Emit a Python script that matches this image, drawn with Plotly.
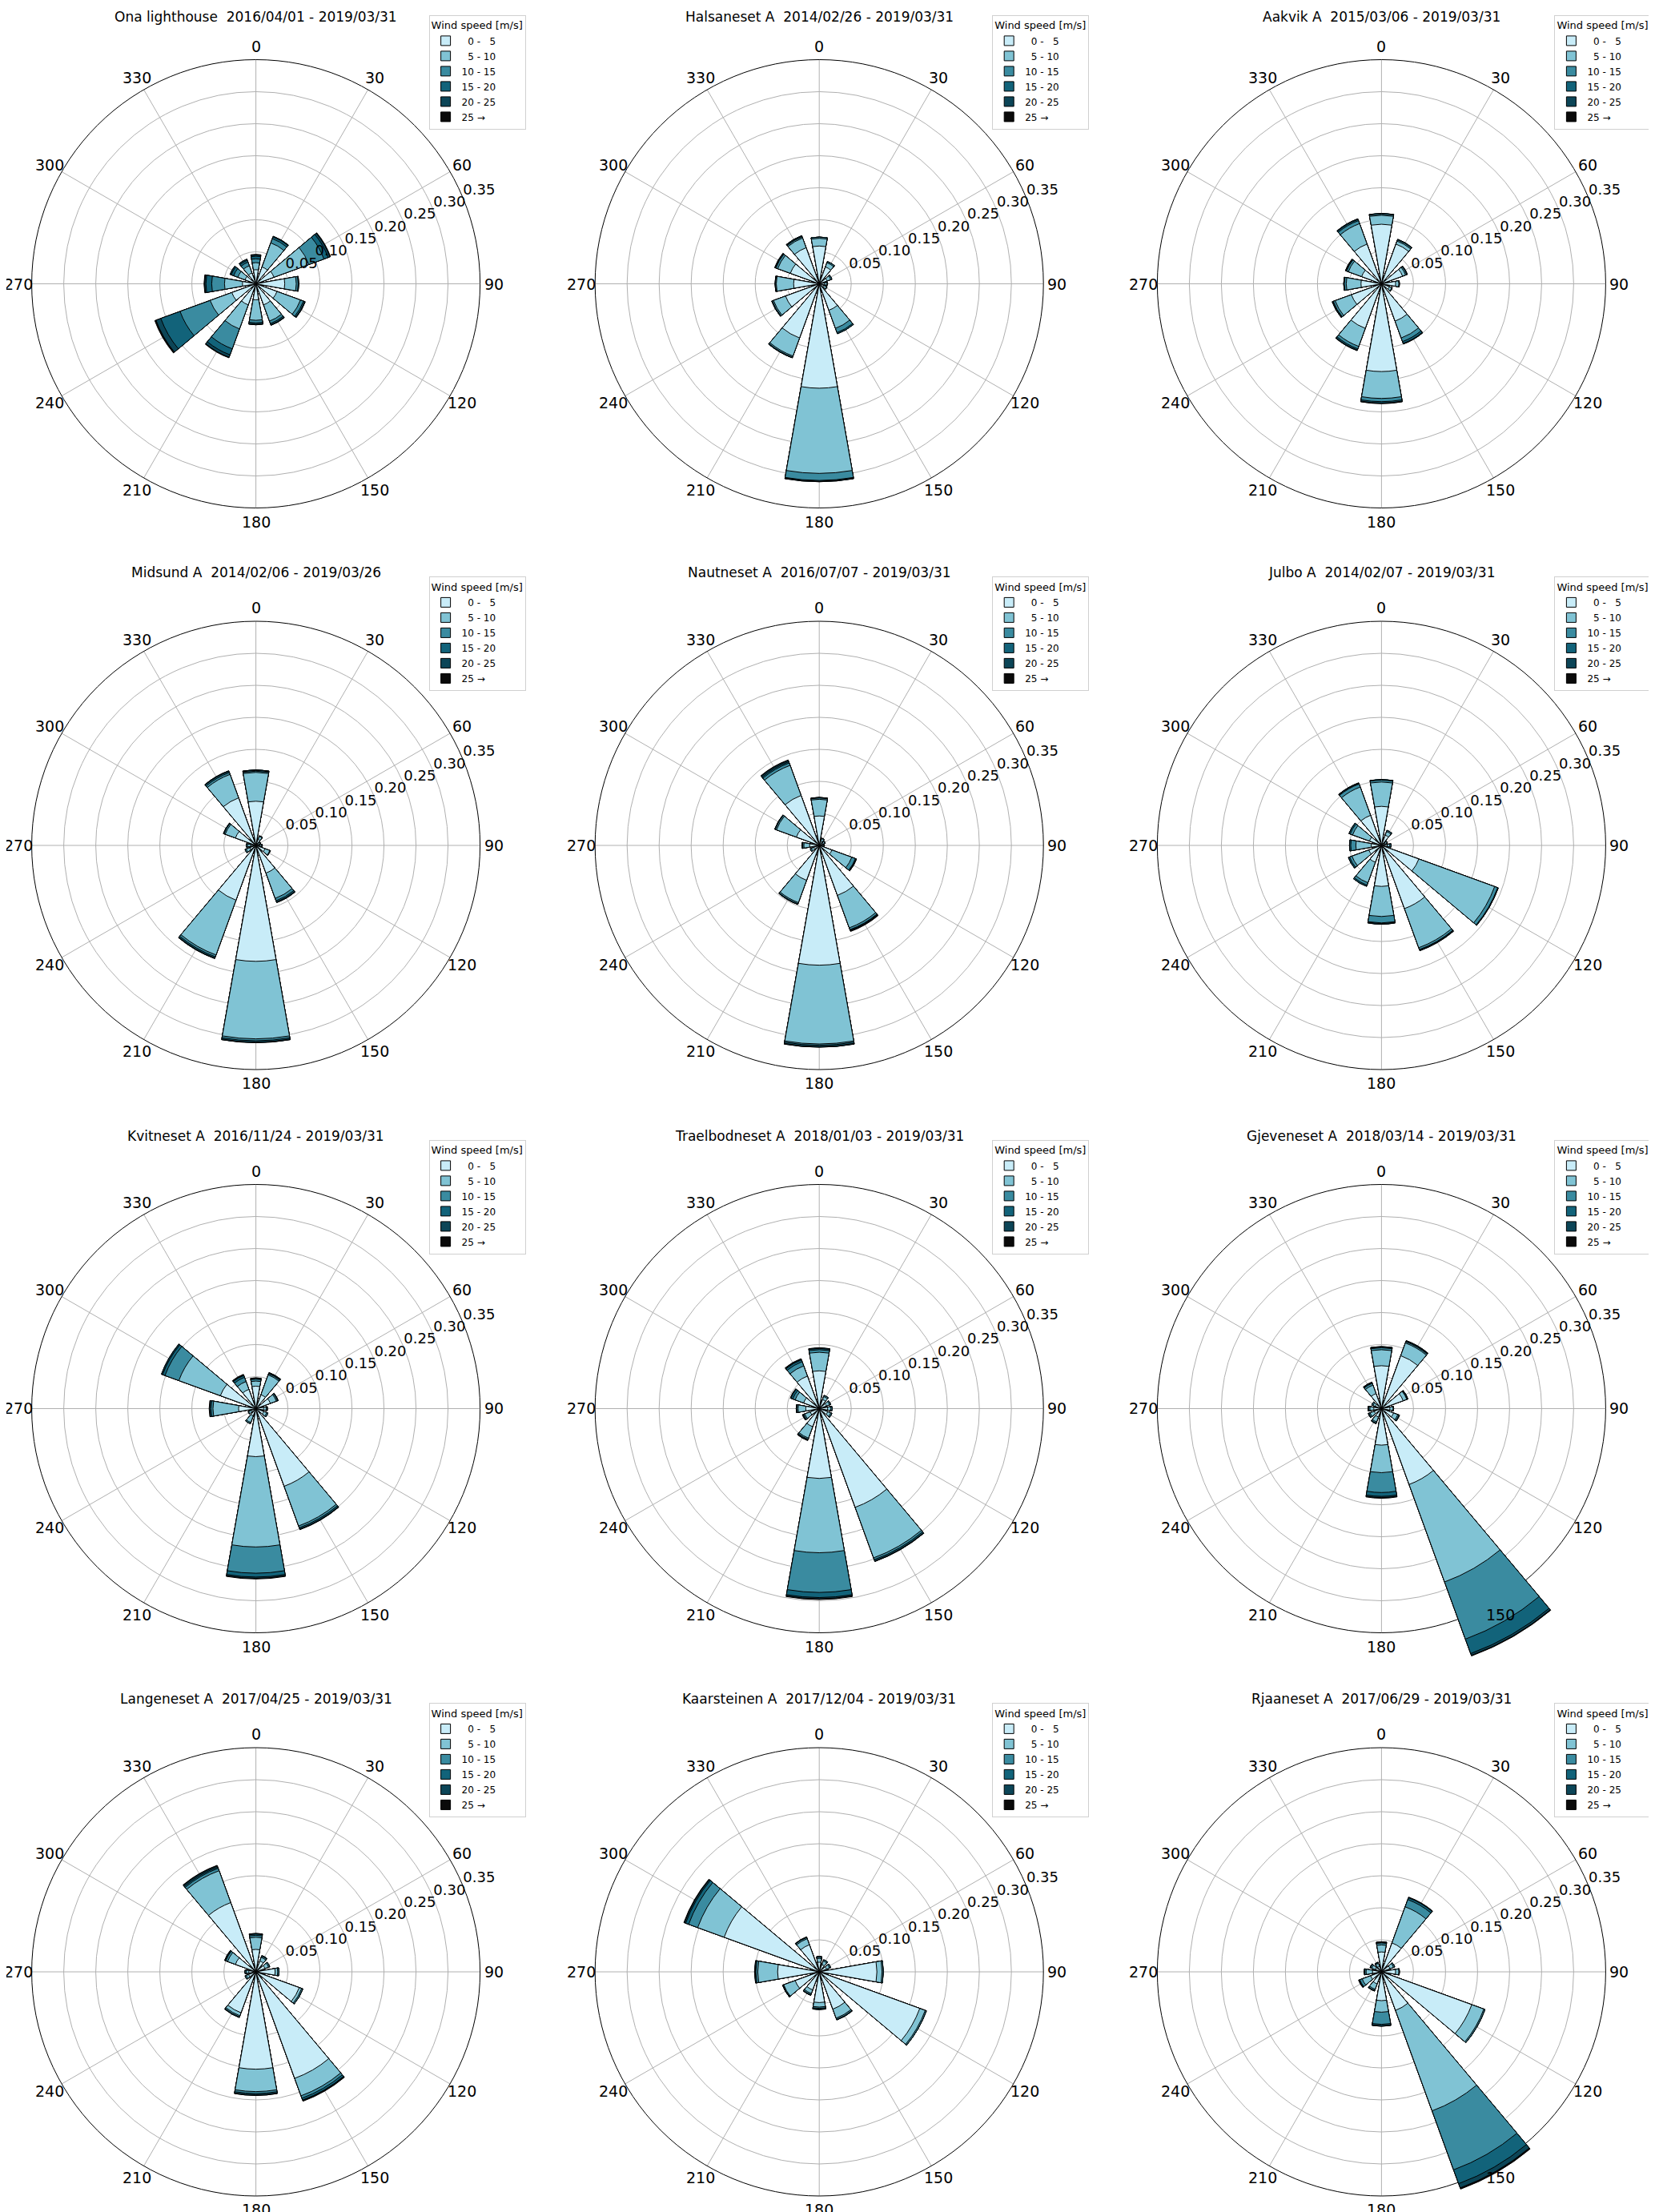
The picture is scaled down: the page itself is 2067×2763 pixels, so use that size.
import math
import plotly.graph_objects as go

# wind direction sectors (degrees) and speed classes
directions = [0, 30, 60, 90, 120, 150, 180, 210, 240, 270, 300, 330]
speed_labels = ["\u20070 - \u20075", "\u20075 - 10", "10 - 15", "15 - 20", "20 - 25", "25 \u2192"]
speed_colors = ["#c8ecf8", "#80c3d4", "#3a8ba0", "#12637a", "#0c4557", "#0a0a0a"]
radial_ticks = [0.05, 0.10, 0.15, 0.20, 0.25, 0.30, 0.35]
radial_text = ["0.05", "0.10", "0.15", "0.20", "0.25", "0.30", "0.35"]
OUTER = 0.35  # value of the outer ring

# cumulative frequency per direction (rows: 0..330 deg), columns = upper edge of each speed class
ona = [
    [0.022, 0.033, 0.039, 0.043, 0.045, 0.046],
    [0.028, 0.068, 0.075, 0.078, 0.079, 0.079],
    [0.030, 0.088, 0.113, 0.120, 0.123, 0.124],
    [0.045, 0.063, 0.066, 0.067, 0.067, 0.067],
    [0.035, 0.074, 0.079, 0.081, 0.082, 0.082],
    [0.035, 0.062, 0.066, 0.068, 0.069, 0.069],
    [0.025, 0.057, 0.061, 0.063, 0.064, 0.064],
    [0.035, 0.075, 0.108, 0.118, 0.122, 0.123],
    [0.040, 0.076, 0.126, 0.158, 0.166, 0.168],
    [0.021, 0.049, 0.069, 0.078, 0.080, 0.081],
    [0.018, 0.030, 0.037, 0.041, 0.043, 0.043],
    [0.018, 0.030, 0.036, 0.039, 0.041, 0.041],
]
halsaneset = [
    [0.059, 0.071, 0.073, 0.073, 0.073, 0.073],
    [0.028, 0.035, 0.037, 0.037, 0.037, 0.037],
    [0.013, 0.019, 0.021, 0.021, 0.021, 0.021],
    [0.008, 0.012, 0.013, 0.013, 0.013, 0.013],
    [0.008, 0.012, 0.013, 0.013, 0.013, 0.013],
    [0.044, 0.074, 0.081, 0.083, 0.083, 0.083],
    [0.163, 0.296, 0.307, 0.308, 0.309, 0.309],
    [0.090, 0.120, 0.122, 0.123, 0.123, 0.123],
    [0.056, 0.076, 0.078, 0.079, 0.079, 0.079],
    [0.040, 0.067, 0.068, 0.069, 0.069, 0.069],
    [0.048, 0.069, 0.072, 0.073, 0.074, 0.074],
    [0.060, 0.076, 0.078, 0.079, 0.080, 0.080],
]
aakvik = [
    [0.093, 0.107, 0.109, 0.110, 0.110, 0.110],
    [0.066, 0.071, 0.073, 0.073, 0.074, 0.074],
    [0.035, 0.040, 0.042, 0.043, 0.043, 0.043],
    [0.022, 0.027, 0.028, 0.028, 0.028, 0.028],
    [0.013, 0.017, 0.018, 0.018, 0.018, 0.018],
    [0.062, 0.090, 0.096, 0.099, 0.100, 0.100],
    [0.137, 0.179, 0.184, 0.186, 0.187, 0.187],
    [0.074, 0.104, 0.108, 0.110, 0.111, 0.111],
    [0.050, 0.077, 0.080, 0.081, 0.082, 0.082],
    [0.032, 0.055, 0.058, 0.059, 0.059, 0.059],
    [0.033, 0.055, 0.058, 0.059, 0.060, 0.060],
    [0.066, 0.100, 0.105, 0.107, 0.108, 0.108],
]
midsund = [
    [0.069, 0.114, 0.116, 0.117, 0.118, 0.118],
    [0.010, 0.015, 0.016, 0.016, 0.016, 0.016],
    [0.005, 0.007, 0.008, 0.008, 0.008, 0.008],
    [0.006, 0.009, 0.010, 0.010, 0.010, 0.010],
    [0.015, 0.023, 0.024, 0.024, 0.024, 0.024],
    [0.046, 0.088, 0.092, 0.094, 0.095, 0.095],
    [0.181, 0.302, 0.305, 0.307, 0.308, 0.308],
    [0.091, 0.182, 0.185, 0.187, 0.188, 0.188],
    [0.010, 0.016, 0.018, 0.018, 0.018, 0.018],
    [0.008, 0.013, 0.015, 0.015, 0.015, 0.015],
    [0.034, 0.051, 0.053, 0.054, 0.054, 0.054],
    [0.079, 0.118, 0.121, 0.123, 0.124, 0.124],
]
nautneset = [
    [0.046, 0.072, 0.074, 0.075, 0.075, 0.075],
    [0.007, 0.011, 0.012, 0.012, 0.012, 0.012],
    [0.006, 0.009, 0.010, 0.010, 0.010, 0.010],
    [0.005, 0.007, 0.008, 0.008, 0.008, 0.008],
    [0.021, 0.054, 0.060, 0.061, 0.062, 0.062],
    [0.083, 0.137, 0.140, 0.141, 0.142, 0.143],
    [0.187, 0.310, 0.312, 0.314, 0.315, 0.315],
    [0.058, 0.095, 0.097, 0.098, 0.098, 0.098],
    [0.009, 0.013, 0.015, 0.015, 0.015, 0.015],
    [0.015, 0.024, 0.026, 0.027, 0.027, 0.027],
    [0.038, 0.071, 0.073, 0.074, 0.074, 0.074],
    [0.083, 0.133, 0.137, 0.139, 0.141, 0.142],
]
julbo = [
    [0.061, 0.099, 0.102, 0.103, 0.103, 0.103],
    [0.017, 0.023, 0.025, 0.025, 0.025, 0.025],
    [0.006, 0.009, 0.010, 0.010, 0.010, 0.010],
    [0.009, 0.013, 0.015, 0.015, 0.015, 0.015],
    [0.062, 0.188, 0.193, 0.194, 0.194, 0.194],
    [0.105, 0.170, 0.173, 0.174, 0.175, 0.175],
    [0.064, 0.111, 0.121, 0.122, 0.123, 0.123],
    [0.028, 0.062, 0.066, 0.068, 0.068, 0.068],
    [0.021, 0.049, 0.053, 0.055, 0.055, 0.055],
    [0.016, 0.040, 0.048, 0.050, 0.050, 0.050],
    [0.020, 0.048, 0.052, 0.054, 0.054, 0.054],
    [0.050, 0.097, 0.102, 0.103, 0.104, 0.104],
]
kvitneset = [
    [0.035, 0.043, 0.046, 0.047, 0.048, 0.048],
    [0.023, 0.056, 0.058, 0.059, 0.060, 0.060],
    [0.024, 0.034, 0.036, 0.037, 0.037, 0.037],
    [0.012, 0.016, 0.017, 0.018, 0.018, 0.018],
    [0.013, 0.018, 0.020, 0.020, 0.020, 0.020],
    [0.129, 0.195, 0.198, 0.200, 0.201, 0.201],
    [0.075, 0.216, 0.257, 0.263, 0.265, 0.266],
    [0.012, 0.023, 0.025, 0.025, 0.025, 0.025],
    [0.008, 0.012, 0.013, 0.013, 0.013, 0.013],
    [0.027, 0.067, 0.070, 0.072, 0.072, 0.073],
    [0.059, 0.128, 0.151, 0.155, 0.157, 0.157],
    [0.032, 0.045, 0.052, 0.055, 0.056, 0.057],
]
traelbodneset = [
    [0.059, 0.088, 0.092, 0.094, 0.095, 0.095],
    [0.015, 0.020, 0.022, 0.022, 0.022, 0.022],
    [0.012, 0.017, 0.019, 0.019, 0.019, 0.019],
    [0.013, 0.018, 0.020, 0.020, 0.020, 0.020],
    [0.014, 0.019, 0.021, 0.021, 0.021, 0.021],
    [0.164, 0.248, 0.251, 0.253, 0.254, 0.254],
    [0.109, 0.225, 0.287, 0.295, 0.297, 0.298],
    [0.030, 0.049, 0.051, 0.052, 0.053, 0.053],
    [0.015, 0.024, 0.026, 0.027, 0.028, 0.028],
    [0.021, 0.033, 0.035, 0.036, 0.036, 0.036],
    [0.026, 0.040, 0.044, 0.047, 0.048, 0.048],
    [0.054, 0.071, 0.078, 0.081, 0.082, 0.083],
]
gjeveneset = [
    [0.067, 0.092, 0.095, 0.096, 0.097, 0.097],
    [0.088, 0.109, 0.111, 0.112, 0.113, 0.113],
    [0.036, 0.042, 0.043, 0.044, 0.044, 0.044],
    [0.013, 0.018, 0.019, 0.019, 0.019, 0.019],
    [0.020, 0.027, 0.029, 0.030, 0.030, 0.030],
    [0.126, 0.288, 0.383, 0.407, 0.410, 0.411],
    [0.057, 0.100, 0.131, 0.137, 0.139, 0.140],
    [0.014, 0.022, 0.024, 0.025, 0.025, 0.025],
    [0.012, 0.019, 0.021, 0.022, 0.022, 0.022],
    [0.012, 0.018, 0.020, 0.021, 0.021, 0.021],
    [0.010, 0.014, 0.016, 0.016, 0.016, 0.016],
    [0.025, 0.039, 0.042, 0.043, 0.044, 0.044],
]
langeneset = [
    [0.035, 0.054, 0.057, 0.059, 0.060, 0.060],
    [0.018, 0.024, 0.026, 0.027, 0.027, 0.027],
    [0.015, 0.021, 0.023, 0.023, 0.023, 0.023],
    [0.030, 0.034, 0.036, 0.036, 0.036, 0.036],
    [0.072, 0.076, 0.078, 0.078, 0.078, 0.078],
    [0.177, 0.206, 0.210, 0.213, 0.214, 0.215],
    [0.152, 0.187, 0.190, 0.192, 0.193, 0.193],
    [0.068, 0.073, 0.075, 0.075, 0.076, 0.076],
    [0.012, 0.016, 0.018, 0.018, 0.018, 0.018],
    [0.011, 0.015, 0.017, 0.017, 0.017, 0.017],
    [0.034, 0.047, 0.050, 0.051, 0.052, 0.052],
    [0.115, 0.168, 0.172, 0.174, 0.176, 0.177],
]
kaarsteinen = [
    [0.015, 0.021, 0.023, 0.024, 0.024, 0.024],
    [0.012, 0.018, 0.020, 0.020, 0.020, 0.020],
    [0.012, 0.017, 0.019, 0.019, 0.019, 0.019],
    [0.090, 0.098, 0.100, 0.100, 0.100, 0.100],
    [0.167, 0.176, 0.178, 0.178, 0.178, 0.178],
    [0.062, 0.077, 0.079, 0.080, 0.080, 0.080],
    [0.048, 0.055, 0.057, 0.058, 0.059, 0.059],
    [0.030, 0.036, 0.038, 0.039, 0.039, 0.039],
    [0.040, 0.059, 0.060, 0.061, 0.061, 0.061],
    [0.065, 0.096, 0.099, 0.100, 0.101, 0.101],
    [0.158, 0.202, 0.217, 0.222, 0.224, 0.225],
    [0.045, 0.055, 0.057, 0.057, 0.058, 0.058],
]
rjaaneset = [
    [0.031, 0.042, 0.045, 0.046, 0.047, 0.047],
    [0.048, 0.108, 0.120, 0.123, 0.124, 0.124],
    [0.014, 0.020, 0.022, 0.022, 0.022, 0.022],
    [0.022, 0.027, 0.028, 0.028, 0.028, 0.028],
    [0.150, 0.170, 0.172, 0.172, 0.172, 0.172],
    [0.064, 0.231, 0.329, 0.352, 0.359, 0.361],
    [0.045, 0.063, 0.082, 0.084, 0.085, 0.085],
    [0.020, 0.029, 0.031, 0.032, 0.032, 0.032],
    [0.018, 0.032, 0.036, 0.037, 0.038, 0.038],
    [0.014, 0.024, 0.026, 0.027, 0.027, 0.027],
    [0.010, 0.016, 0.018, 0.019, 0.019, 0.019],
    [0.009, 0.014, 0.015, 0.016, 0.016, 0.016],
]

stations = [
    ("Ona lighthouse", "2016/04/01 - 2019/03/31", ona),
    ("Halsaneset A", "2014/02/26 - 2019/03/31", halsaneset),
    ("Aakvik A", "2015/03/06 - 2019/03/31", aakvik),
    ("Midsund A", "2014/02/06 - 2019/03/26", midsund),
    ("Nautneset A", "2016/07/07 - 2019/03/31", nautneset),
    ("Julbo A", "2014/02/07 - 2019/03/31", julbo),
    ("Kvitneset A", "2016/11/24 - 2019/03/31", kvitneset),
    ("Traelbodneset A", "2018/01/03 - 2019/03/31", traelbodneset),
    ("Gjeveneset A", "2018/03/14 - 2019/03/31", gjeveneset),
    ("Langeneset A", "2017/04/25 - 2019/03/31", langeneset),
    ("Kaarsteinen A", "2017/12/04 - 2019/03/31", kaarsteinen),
    ("Rjaaneset A", "2017/06/29 - 2019/03/31", rjaaneset),
]

W, H = 2067, 2763
col_x = [311.6, 1015.2, 1717.4]
row_y = [346.5, 1048.0, 1751.5, 2455.0]
R = 280          # px radius of the 0.35 ring
LABEL_R = 297    # px radius where the direction labels sit
FONT = "DejaVu Sans"
GRID = "#b0b0b0"

fig = go.Figure()
layout = dict(
    width=W, height=H, margin=dict(l=0, r=0, t=0, b=0, autoexpand=False),
    paper_bgcolor="white", plot_bgcolor="white",
    font=dict(family=FONT, color="black"),
    annotations=[], shapes=[],
)

for i, (name, period, rows) in enumerate(stations):
    cx = col_x[i % 3]
    cy = row_y[i // 3]
    pname = "polar" if i == 0 else "polar%d" % (i + 1)
    lname = "legend" if i == 0 else "legend%d" % (i + 1)

    # radial range is widened when a bar runs past the outer ring
    rmax = max(OUTER, max(row[5] for row in rows) + 0.01)
    Rtot = R * rmax / OUTER

    # draw outermost class first so inner classes sit on top
    for k in range(5, -1, -1):
        fig.add_trace(go.Barpolar(
            r=[row[k] for row in rows],
            theta=directions,
            width=20,
            name=speed_labels[k],
            marker=dict(color=speed_colors[k], line=dict(color="black", width=1)),
            subplot=pname,
            legend=lname,
            hoverinfo="skip",
        ))
    fig.add_trace(go.Scatterpolar(
        r=radial_ticks, theta=[67.5] * len(radial_ticks),
        mode="text", text=radial_text, textposition="top right",
        textfont=dict(size=18, family=FONT, color="black"),
        cliponaxis=False, subplot=pname, showlegend=False, hoverinfo="skip",
    ))

    layout[pname] = dict(
        domain=dict(x=[(cx - Rtot) / W, (cx + Rtot) / W],
                    y=[1 - (cy + Rtot) / H, 1 - (cy - Rtot) / H]),
        barmode="overlay",
        bgcolor="rgba(0,0,0,0)",
        angularaxis=dict(
            rotation=90, direction="clockwise",
            showticklabels=False, ticks="", showline=False, showgrid=False,
        ),
        radialaxis=dict(
            range=[0, rmax], tickvals=radial_ticks[:-1],
            showticklabels=False, showline=False, ticks="",
            gridcolor=GRID, gridwidth=1,
            layer="below traces",
        ),
    )
    # spokes and outer ring stop at the 0.35 ring, underneath the bars
    for a in directions:
        t = math.radians(a)
        layout["shapes"].append(dict(
            type="line", xref="paper", yref="paper", layer="below",
            x0=cx / W, y0=1 - cy / H,
            x1=(cx + R * math.sin(t)) / W, y1=1 - (cy - R * math.cos(t)) / H,
            line=dict(color=GRID, width=1),
        ))
    layout["shapes"].append(dict(
        type="circle", xref="paper", yref="paper", layer="below",
        x0=(cx - R) / W, x1=(cx + R) / W,
        y0=1 - (cy + R) / H, y1=1 - (cy - R) / H,
        line=dict(color="black", width=1),
    ))

    layout[lname] = dict(
        x=(cx + 216) / W, y=1 - (cy - 336) / H,
        xanchor="left", yanchor="top",
        traceorder="reversed",
        title=dict(text="Wind speed [m/s]", font=dict(size=13, family=FONT)),
        font=dict(size=12, family=FONT),
        bgcolor="white", bordercolor="#d0d0d0", borderwidth=1,
    )
    layout["annotations"].append(dict(
        x=cx / W, y=1 - max(cy - 341, 12.5) / H, xref="paper", yref="paper",
        text=name + "\u00a0 " + period, showarrow=False,
        xanchor="center", yanchor="middle",
        font=dict(size=17, family=FONT),
    ))
    # direction labels just outside the outer ring
    for a in directions:
        t = math.radians(a)
        layout["annotations"].append(dict(
            x=(cx + LABEL_R * math.sin(t)) / W,
            y=1 - (cy - LABEL_R * math.cos(t)) / H,
            xref="paper", yref="paper", text=str(a), showarrow=False,
            xanchor="center", yanchor="middle",
            font=dict(size=19, family=FONT),
        ))

fig.update_layout(**layout)
fig.write_html("out.html")
